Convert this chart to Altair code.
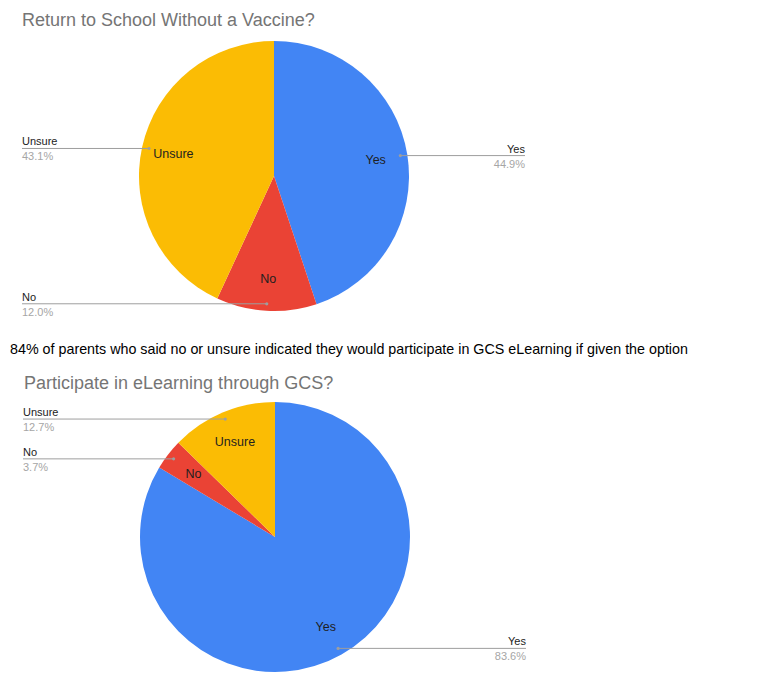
import altair as alt
import pandas as pd

# ---- data ----
categories = ["Yes", "No", "Unsure"]
school_pct = [44.9, 12.0, 43.1]
elearn_pct = [83.6, 3.7, 12.7]
pie_titles = ["Return to School Without a Vaccine?", "Participate in eLearning through GCS?"]
caption = ("84% of parents who said no or unsure indicated they would participate "
           "in GCS eLearning if given the option")
colors = ["#4285F4", "#EA4335", "#FBBC04"]

FONT = "Liberation Sans, Arial, sans-serif"

rows = []
for p, vals in enumerate([school_pct, elearn_pct]):
    for i, (c, v) in enumerate(zip(categories, vals)):
        rows.append({"pie": p, "order": i, "cat": c, "value": v, "pct": f"{v:.1f}%"})
df = pd.DataFrame(rows)

titles_df = pd.DataFrame({"pie": [0, 1], "t": pie_titles})
caption_df = pd.DataFrame({"t": [caption]})

def X(f):
    return alt.X(f, type="quantitative",
                 scale=alt.Scale(domain=[8, 767], nice=False, zero=False), axis=None)

def Y(f):
    return alt.Y(f, type="quantitative",
                 scale=alt.Scale(domain=[8, 688], nice=False, zero=False, reverse=True),
                 axis=None)

base = (
    alt.Chart(df)
    .transform_window(cum="sum(value)", groupby=["pie"],
                      sort=[alt.SortField("order")], frame=[None, 0])
    .transform_calculate(
        t1="datum.cum / 100",
        t0="(datum.cum - datum.value) / 100",
        cx="datum.pie == 0 ? 274 : 275",
        cy="datum.pie == 0 ? 176 : 537",
    )
    .transform_calculate(mid="PI * (datum.t0 + datum.t1)")
    .transform_calculate(
        dx="datum.cx + 128 * sin(datum.mid)",
        dy="datum.cy - 128 * cos(datum.mid)",
        ix="datum.cx + 103 * sin(datum.mid)",
        iy="datum.cy - 103 * cos(datum.mid)",
        right="sin(datum.mid) >= 0",
    )
    .transform_calculate(ex="datum.right ? datum.cx + 251 : datum.cx - 252")
)

arcs = base.mark_arc().encode(
    x=X("cx"), y=Y("cy"),
    theta=alt.Theta("t0:Q", scale=alt.Scale(domain=[0, 1], range=[0, 6.283185307]), stack=None),
    theta2="t1:Q",
    radius=alt.value(135),
    color=alt.Color("cat:N", scale=alt.Scale(domain=categories, range=colors), legend=None),
)

inner = base.mark_text(fontSize=12.5, font=FONT, color="#1f1f1f").encode(
    x=X("ix"), y=Y("iy"), text="cat:N"
)

leaders = base.mark_rule(color="#9e9e9e", strokeWidth=1).encode(
    x=X("dx"), x2="ex:Q", y=Y("dy")
)

dots = base.mark_circle(size=10, color="#9e9e9e", opacity=1).encode(
    x=X("dx"), y=Y("dy")
)

def side_labels(is_right):
    b = base.transform_filter("datum.right" if is_right else "!datum.right")
    al = "right" if is_right else "left"
    name = b.mark_text(align=al, baseline="alphabetic", dy=-3, fontSize=11,
                       font=FONT, color="#222222").encode(x=X("ex"), y=Y("dy"), text="cat:N")
    pct = b.mark_text(align=al, baseline="top", dy=3, fontSize=11,
                      font=FONT, color="#a6a6a6").encode(x=X("ex"), y=Y("dy"), text="pct:N")
    return name + pct

titles = (
    alt.Chart(titles_df)
    .transform_calculate(tx="datum.pie == 0 ? 22 : 24", ty="datum.pie == 0 ? 26 : 389")
    .mark_text(align="left", baseline="alphabetic", fontSize=18, font=FONT, color="#757575")
    .encode(x=X("tx"), y=Y("ty"), text="t:N")
)

cap = (
    alt.Chart(caption_df)
    .mark_text(align="left", baseline="alphabetic", fontSize=14.3, font=FONT, color="#000000")
    .encode(x=alt.value(2), y=alt.value(346), text="t:N")
)

chart = (
    alt.layer(arcs, leaders, dots, inner, side_labels(True), side_labels(False), titles, cap)
    .properties(width=759, height=680, autosize="none", padding=0)
    .configure_view(stroke=None)
)

chart.save("out.html", embed_options={"renderer": "svg", "actions": False})
